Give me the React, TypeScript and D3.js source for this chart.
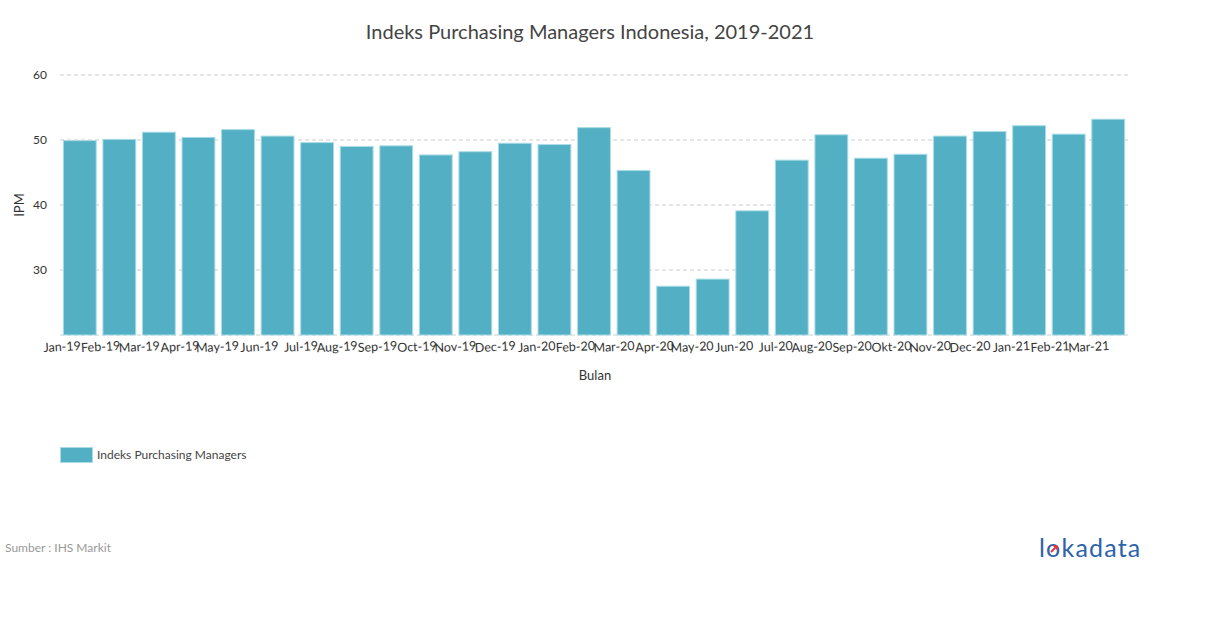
import React from "react";
import * as d3 from "d3";

const categories = ["Jan-19","Feb-19","Mar-19","Apr-19","May-19","Jun-19","Jul-19","Aug-19","Sep-19","Oct-19","Nov-19","Dec-19","Jan-20","Feb-20","Mar-20","Apr-20","May-20","Jun-20","Jul-20","Aug-20","Sep-20","Okt-20","Nov-20","Dec-20","Jan-21","Feb-21","Mar-21"];
const values = [49.9,50.1,51.2,50.4,51.6,50.6,49.6,49.0,49.1,47.7,48.2,49.5,49.3,51.9,45.3,27.5,28.6,39.1,46.9,50.8,47.2,47.8,50.6,51.3,52.2,50.9,53.2];
const yTicks = [30, 40, 50, 60];
const seriesName = "Indeks Purchasing Managers";

const W = 1210, H = 628;
const plot = { left: 60, right: 1128, top: 75, bottom: 335 };
const font = "Lato, 'Open Sans', sans-serif";

export default function App() {
  const x = d3.scaleBand<string>().domain(categories).range([plot.left, plot.right]).paddingInner(0.17).paddingOuter(0.085);
  const y = d3.scaleLinear().domain([20, 60]).range([plot.bottom, plot.top]);
  const color = "#52afc4";
  return (
    <svg width={W} height={H} style={{ position: "absolute", left: 0, top: 0, background: "#fff" }} fontFamily={font}>
      <text x={590} y={39} textAnchor="middle" fontSize={20} fill="#444">Indeks Purchasing Managers Indonesia, 2019-2021</text>
      {[20, ...yTicks].map(t => (
        <line key={t} x1={plot.left} x2={plot.right} y1={y(t)} y2={y(t)} stroke="#ccc" strokeDasharray="4,3" strokeWidth={1} />
      ))}
      {yTicks.map(t => (
        <text key={t} x={47} y={y(t) + 4} textAnchor="end" fontSize={12} fill="#333">{t}</text>
      ))}
      {categories.map((c, i) => (
        <rect key={c} x={x(c)!} y={y(values[i])} width={x.bandwidth()} height={y(20) - y(values[i])} fill={color} stroke="#a9dce7" strokeWidth={1} />
      ))}
      {categories.map(c => {
        const cx = x(c)! + x.bandwidth() / 2 + 1;
        return (
          <text key={c} x={cx} y={350} textAnchor="end" fontSize={12.5} fill="#333" transform={`rotate(-3 ${cx} 346)`}>{c}</text>
        );
      })}
      <text x={595} y={380} textAnchor="middle" fontSize={13} fill="#333">Bulan</text>
      <text transform="translate(24 205) rotate(-90)" textAnchor="middle" fontSize={13} fill="#333">IPM</text>
      <rect x={60.5} y={447.5} width={32} height={15} fill={color} stroke="#a9dce7" />
      <text x={97} y={459} fontSize={12} fill="#444">{seriesName}</text>
      <text x={5} y={552} fontSize={12} fill="#999">Sumber : IHS Markit</text>
      <text x={1039} y={557} fontSize={25} fill="#2d63aa" letterSpacing={1.2}>lokadata</text>
      <path d="M1051 552 l6 -6 M1057 546 l-3.5 0 M1057 546 l0 3.5" stroke="#e0353b" strokeWidth={2} fill="none" />
    </svg>
  );
}
